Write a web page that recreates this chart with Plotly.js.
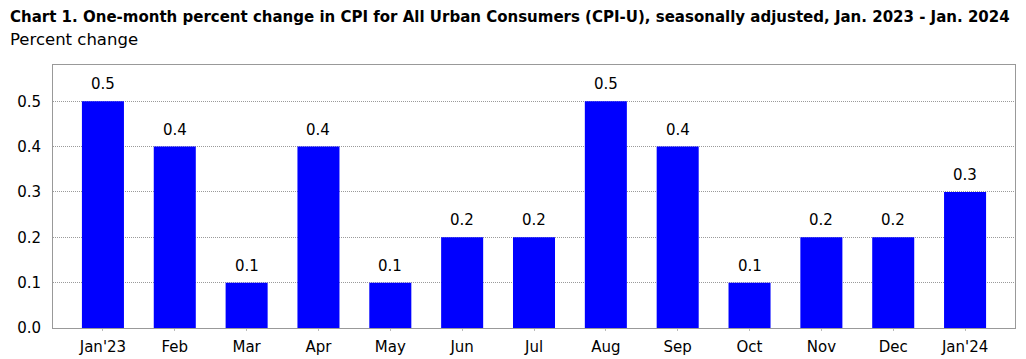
<!DOCTYPE html>
<html><head><meta charset="utf-8">
<script src="https://cdn.plot.ly/plotly-3.0.1.min.js"></script>
<style>body{margin:0;padding:0;background:#fff}#chart{width:1026px;height:359px}</style>
</head><body><div id="chart"></div>
<script>
const months = ["Jan'23","Feb","Mar","Apr","May","Jun","Jul","Aug","Sep","Oct","Nov","Dec","Jan'24"];
const pctChange = [0.5,0.4,0.1,0.4,0.1,0.2,0.2,0.5,0.4,0.1,0.2,0.2,0.3];
const yTicks = [0.0,0.1,0.2,0.3,0.4,0.5];
const yTickText = ["0.0","0.1","0.2","0.3","0.4","0.5"];

const trace = {
  type: 'bar', x: months, y: pctChange,
  marker: {color: '#0000ff', line: {width: 0}},
  hoverinfo: 'none'
};
const valueLabels = months.map((m, i) => ({
  x: m, y: pctChange[i], xref: 'x', yref: 'y',
  text: pctChange[i].toFixed(1), showarrow: false,
  yanchor: 'bottom', yshift: 6,
  font: {family: 'DejaVu Sans', size: 15, color: '#000'}
}));
const layout = {
  width: 1026, height: 359,
  margin: {l: 53, r: 11, t: 65, b: 31},
  paper_bgcolor: '#fff', plot_bgcolor: '#fff',
  bargap: 0.415,
  showlegend: false,
  xaxis: {
    type: 'category', range: [-0.695, 12.695],
    tickfont: {family: 'DejaVu Sans', size: 15, color: '#000'},
    showgrid: false, showline: true, linecolor: '#999', linewidth: 1, mirror: true,
    ticks: 'outside', ticklen: 2, tickcolor: '#bbb', ticklabelstandoff: 3
  },
  yaxis: {
    range: [0, 0.58], tickvals: yTicks, ticktext: yTickText,
    tickfont: {family: 'DejaVu Sans', size: 15, color: '#000'},
    showgrid: true, gridcolor: '#9a9a9a', griddash: '1px,1px', gridwidth: 1,
    showline: true, linecolor: '#999', linewidth: 1, mirror: true,
    zeroline: false, ticks: '', ticklabelstandoff: 8
  },
  annotations: valueLabels.concat([
    {text: '<b>Chart 1. One-month percent change in CPI for All Urban Consumers (CPI-U), seasonally adjusted, Jan. 2023 - Jan. 2024</b>',
     xref: 'paper', yref: 'paper', x: -45/962, y: 1, xanchor: 'left', yanchor: 'bottom', yshift: 37,
     showarrow: false, font: {family: 'DejaVu Sans', size: 15, color: '#000'}},
    {text: 'Percent change', xref: 'paper', yref: 'paper', x: -45/962, y: 1, xanchor: 'left', yanchor: 'bottom', yshift: 14,
     showarrow: false, font: {family: 'DejaVu Sans', size: 16.5, color: '#000'}}
  ])
};
Plotly.newPlot('chart', [trace], layout, {displayModeBar: false, staticPlot: true});
</script></body></html>
